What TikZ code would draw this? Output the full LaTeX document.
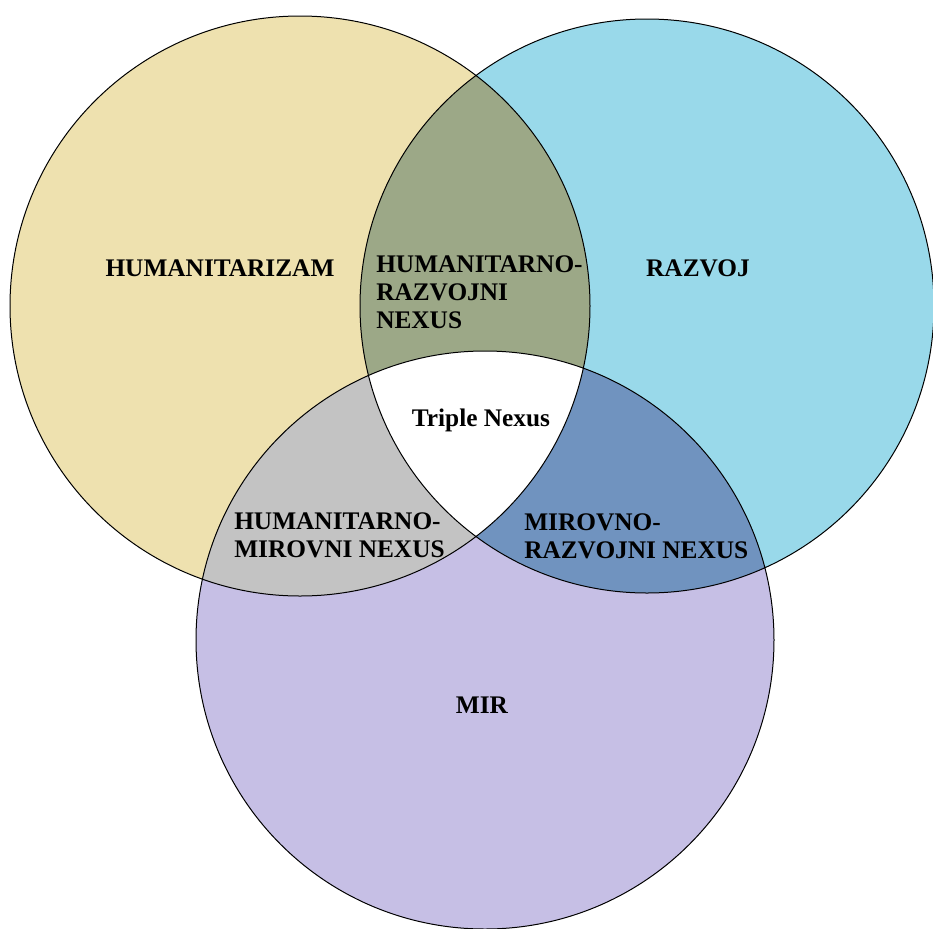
\documentclass[tikz,border=0pt]{standalone}
\usepackage{fontspec}
\setmainfont{Liberation Serif}
\usepackage{tikz}

\definecolor{humfill}{HTML}{EEE1AF}
\definecolor{razfill}{HTML}{99D9EA}
\definecolor{mirfill}{HTML}{C6BFE5}
\definecolor{hrfill}{HTML}{9CA887}
\definecolor{hmfill}{HTML}{C3C3C3}
\definecolor{mrfill}{HTML}{7093BF}

\tikzset{venntext/.style={font=\fontsize{19}{21}\selectfont\bfseries, inner sep=0pt}}

\begin{document}
\begin{tikzpicture}[x=0.75pt,y=-0.75pt]
  \newcommand{\humcircle}{(300,306) circle (290)}
  \newcommand{\razcircle}{(647,306) circle (287)}
  \newcommand{\mircircle}{(485,640) circle (289)}
  \useasboundingbox (0,0) rectangle (933,929);

% the three sets
  \fill[humfill] \humcircle;
  \fill[razfill] \razcircle;
  \fill[mirfill] \mircircle;

% overlaps of two sets
  \begin{scope}
    \clip \humcircle;
    \fill[hrfill] \razcircle;
    \fill[hmfill] \mircircle;
  \end{scope}
  \begin{scope}
    \clip \razcircle;
    \fill[mrfill] \mircircle;
% overlap of all three
    \clip \humcircle;
    \fill[white] \mircircle;
  \end{scope}

% outlines
  \draw[line width=0.75pt] \humcircle \razcircle \mircircle;

  \node[venntext] (hum) at (220,268) {HUMANITARIZAM};
  \node[venntext] (raz) at (698,268) {RAZVOJ};
  \node[venntext] (mir) at (482,705) {MIR};
  \node[venntext] (triple) at (481,420) {Triple Nexus};
  \node[venntext, anchor=west, align=left] (humraz) at (376,292) {HUMANITARNO-\\RAZVOJNI\\NEXUS};
  \node[venntext, anchor=west, align=left] (hummir) at (234,535) {HUMANITARNO-\\MIROVNI NEXUS};
  \node[venntext, anchor=west, align=left] (mirraz) at (524,536) {MIROVNO-\\RAZVOJNI NEXUS};
\end{tikzpicture}
\end{document}
